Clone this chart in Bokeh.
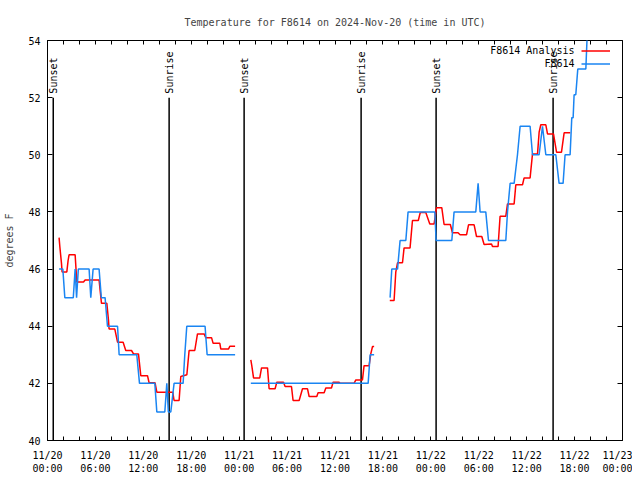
import math
from bokeh.plotting import figure
from bokeh.models import (FixedTicker, LinearAxis, Range1d, Label, Legend, LegendItem)
from bokeh.core.properties import value
from bokeh.embed import file_html
from bokeh.resources import INLINE

# time axis: hours since 2024-11-20 00:00 UTC
# ---- F8614 Analysis (red) ----
analysis_hours_1 = [1.45, 1.54, 1.75, 1.83, 2.42, 2.58, 2.70, 3.46, 3.67, 4.51, 4.71, 6.46, 6.59, 6.76,
                    7.43, 7.64, 7.71, 8.43, 8.77, 9.47, 9.80, 10.52, 10.77, 11.39, 11.68, 12.52, 12.72,
                    13.47, 13.69, 15.69, 15.85, 16.48, 16.69, 17.45, 17.73, 18.44, 18.78, 19.61, 19.82,
                    20.54, 20.74, 21.58, 21.70, 22.66, 22.83, 23.49]
analysis_temp_1 = [47.1, 46.8, 46.2, 45.9, 45.9, 46.3, 46.5, 46.5, 45.55, 45.55, 45.62, 45.62, 45.25, 44.8,
                   44.8, 44.2, 43.9, 43.9, 43.44, 43.44, 43.15, 43.15, 43.03, 43.03, 42.27, 42.27, 42.02,
                   42.02, 41.69, 41.69, 41.4, 41.4, 42.24, 42.3, 43.15, 43.15, 43.73, 43.73, 43.6,
                   43.6, 43.4, 43.4, 43.2, 43.2, 43.3, 43.3]
analysis_hours_2 = [25.46, 25.58, 25.80, 26.58, 26.80, 27.55, 27.75, 28.50, 28.71, 29.55, 29.75, 30.55,
                    30.75, 31.51, 31.93, 32.56, 32.76, 33.72, 33.88, 34.64, 34.85, 35.56, 35.76, 36.51,
                    36.64, 38.39, 38.61, 39.44, 39.64, 40.27, 40.48, 40.70, 40.90]
analysis_temp_2 = [42.82, 42.62, 42.19, 42.19, 42.54, 42.54, 41.81, 41.81, 42.04, 42.04, 41.89, 41.89,
                   41.40, 41.40, 41.81, 41.81, 41.54, 41.54, 41.67, 41.67, 41.84, 41.84, 42.04, 42.04,
                   42.0, 42.0, 42.12, 42.12, 42.62, 42.62, 43.03, 43.29, 43.29]
analysis_hours_3 = [42.86, 43.40, 43.61, 43.83, 44.45, 44.65, 45.40, 45.70, 46.43, 46.68, 47.37, 47.87,
                    48.41, 48.71, 49.37, 49.66, 50.44, 50.71, 51.41, 51.66, 52.47, 52.72, 53.42, 53.72,
                    54.38, 54.67, 55.60, 55.72, 56.42, 56.67, 57.39, 57.60, 58.43, 58.64, 59.48, 59.68,
                    60.43, 60.73, 61.36, 61.56, 61.77, 62.40, 62.61, 63.36, 63.74, 64.36, 64.69, 65.46]
analysis_temp_3 = [44.9, 44.9, 45.89, 46.22, 46.22, 46.74, 46.74, 47.70, 47.70, 47.98, 47.98, 47.58,
                   47.58, 48.15, 48.15, 47.56, 47.56, 47.27, 47.27, 47.2, 47.2, 47.55, 47.55, 47.14,
                   47.14, 46.86, 46.88, 46.79, 46.79, 47.85, 47.85, 48.28, 48.28, 48.95, 48.95, 49.19,
                   49.19, 50.03, 50.03, 50.79, 51.05, 51.05, 50.73, 50.73, 50.09, 50.09, 50.77, 50.77]

# ---- F8614 observations (blue) ----
obs_hours_1 = [1.45, 1.92, 2.17, 3.23, 3.46, 3.64, 3.86, 5.21, 5.42, 5.71, 6.46, 6.74, 7.21, 7.51, 8.77,
               8.97, 11.18, 11.52, 13.44, 13.69, 14.69, 14.94, 15.13, 15.44, 15.85, 16.98, 17.19,
               17.44, 19.73, 19.99, 23.49]
obs_temp_1 = [46, 46, 45, 45, 46, 45, 46, 46, 45, 46, 46, 45, 45, 44, 44,
              43, 43, 42, 42, 41, 41, 42, 41, 41, 42, 42, 43,
              44, 44, 43, 43]
obs_hours_2 = [25.46, 40.15, 40.40, 40.90]
obs_temp_2 = [42, 42, 43, 43]
obs_hours_3 = [42.90, 43.11, 43.83, 44.15, 44.87, 45.15, 48.50, 48.66, 50.63, 50.91, 53.63, 53.92,
               54.17, 54.88, 55.22, 57.39, 57.60, 57.93, 58.43, 58.85, 59.18, 60.43, 60.73, 61.56,
               61.98, 62.40, 63.65, 64.06, 64.56, 64.81, 65.44, 65.65, 65.82, 65.94, 66.15, 66.40,
               67.41, 67.62]
obs_temp_3 = [45, 46, 46, 47, 47, 48, 48, 47, 47, 48, 48, 49,
              48, 48, 47, 47, 48, 49, 49, 50, 51, 51, 50, 50,
              51, 50, 50, 49, 49, 50, 50, 51.3, 51.3, 52.1, 52.1, 53,
              53, 54.5]

# ---- sun events ----
event_hours = [0.72, 15.23, 24.62, 39.27, 48.66, 63.31]
event_names = ["Sunset", "Sunrise", "Sunset", "Sunrise", "Sunset", "Sunrise"]
event_line_bottom = 40.0
event_line_top = 52.0

# ---- axes ----
x_tick_hours = [0, 6, 12, 18, 24, 30, 36, 42, 48, 54, 60, 66, 72]
x_tick_labels = ["11/20\n00:00", "11/20\n06:00", "11/20\n12:00", "11/20\n18:00",
                 "11/21\n00:00", "11/21\n06:00", "11/21\n12:00", "11/21\n18:00",
                 "11/22\n00:00", "11/22\n06:00", "11/22\n12:00", "11/22\n18:00",
                 "11/23\n00:00"]
x_minor_hours = [h for h in range(0, 73, 2) if h % 6 != 0]
y_ticks = [40, 42, 44, 46, 48, 50, 52, 54]
title_text = "Temperature for F8614 on 2024-Nov-20 (time in UTC)"

FONT = "DejaVu Sans Mono"
FS = "10px"
RED = "#ff0000"
BLUE = "#1a85f2"

p = figure(width=632, height=476, x_range=Range1d(0, 72), y_range=Range1d(40, 54),
           output_backend="svg", toolbar_location=None,
           min_border_left=47, min_border_right=10, min_border_top=40, min_border_bottom=36)
p.grid.visible = False
p.outline_line_color = "black"
p.outline_line_width = 1

p.title.text = title_text
p.title.align = "center"
p.title.text_font = FONT
p.title.text_font_size = FS
p.title.text_font_style = "normal"
p.title.standoff = 25

xa = p.xaxis[0]
xa.ticker = FixedTicker(ticks=x_tick_hours, minor_ticks=x_minor_hours)
xa.major_label_overrides = {h: lab for h, lab in zip(x_tick_hours, x_tick_labels)}
ya = p.yaxis[0]
ya.ticker = FixedTicker(ticks=y_ticks)
ya.axis_label = "degrees F"
ya.axis_label_standoff = 10
ya.axis_label_text_font = FONT
ya.axis_label_text_font_size = FS
ya.axis_label_text_font_style = "normal"

for ax in (xa, ya):
    ax.major_label_text_font = FONT
    ax.major_label_text_font_size = FS
    ax.major_label_text_color = "black"
    ax.axis_line_color = "black"
    ax.major_tick_out = 0
    ax.minor_tick_out = 0
ya.major_label_standoff = 7
xa.major_label_standoff = 9
xa.major_tick_in = 4
xa.minor_tick_in = 4
ya.major_tick_in = 5
ya.minor_tick_in = 0

top = LinearAxis(ticker=FixedTicker(ticks=x_tick_hours, minor_ticks=x_minor_hours),
                 major_label_overrides={h: "" for h in x_tick_hours},
                 major_label_text_font_size="0px",
                 axis_line_color=None, major_tick_in=4, major_tick_out=0,
                 minor_tick_in=4, minor_tick_out=0, major_label_standoff=0)
p.add_layout(top, "above")
right = LinearAxis(ticker=FixedTicker(ticks=y_ticks),
                   major_label_overrides={t: "" for t in y_ticks},
                   major_label_text_font_size="0px",
                   axis_line_color=None, major_tick_in=5, major_tick_out=0,
                   minor_tick_in=0, minor_tick_out=0, major_label_standoff=0)
p.add_layout(right, "right")

# sun event lines and labels
p.segment(x0=event_hours, y0=[event_line_bottom] * len(event_hours),
          x1=event_hours, y1=[event_line_top] * len(event_hours),
          line_color="black", line_width=1.5)
p.text(x=event_hours, y=[event_line_top] * len(event_hours), text=event_names,
       angle=math.pi / 2, text_align="left", text_baseline="middle", y_offset=-4,
       text_font=value(FONT), text_font_size=FS, text_color="black")

# data
red_r = None
for hs, ts in ((analysis_hours_1, analysis_temp_1), (analysis_hours_2, analysis_temp_2),
               (analysis_hours_3, analysis_temp_3)):
    r = p.line(hs, ts, line_color=RED, line_width=1.5)
    red_r = red_r or r
blue_r = None
for hs, ts in ((obs_hours_1, obs_temp_1), (obs_hours_2, obs_temp_2), (obs_hours_3, obs_temp_3)):
    r = p.line(hs, ts, line_color=BLUE, line_width=1.5)
    blue_r = blue_r or r

# gnuplot-style key: text on the left, sample on the right
legend = Legend(items=[LegendItem(label=value(""), renderers=[red_r]),
                       LegendItem(label=value(""), renderers=[blue_r])],
                location=(534, 370), orientation="vertical",
                glyph_width=29, glyph_height=13, label_height=13, label_width=0,
                label_standoff=0, spacing=0, padding=0, margin=0,
                border_line_color=None, background_fill_alpha=0)
p.add_layout(legend)
for txt, yy in (("F8614 Analysis", 390), ("F8614", 377)):
    p.add_layout(Label(x=527, y=yy, x_units="screen", y_units="screen", text=txt,
                       text_align="right", text_baseline="middle",
                       text_font=FONT, text_font_size=FS, text_color="black"))

open("out.html", "w").write(file_html(p, INLINE))
